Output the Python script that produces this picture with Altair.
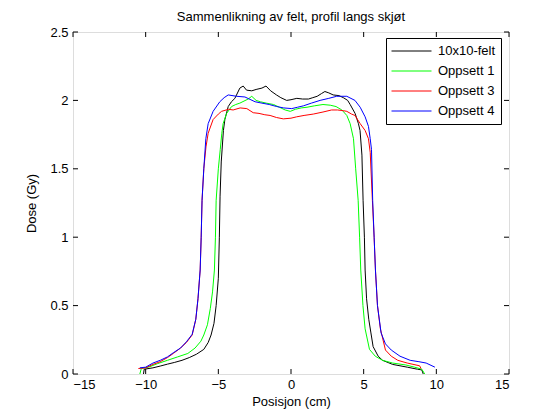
import altair as alt
import pandas as pd

# ---- data ----
series_names = ["10x10-felt", "Oppsett 1", "Oppsett 3", "Oppsett 4"]
series_colors = ["#000000", "#00ff00", "#ff0000", "#0000ff"]

black_x = [-10.15, -10.1, -9.5, -9.0, -8.5, -8.0, -7.5, -7.0, -6.5, -6.0, -5.7, -5.5, -5.3, -5.15,
           -5.0, -4.93, -4.88, -4.8, -4.65, -4.55, -4.32, -4.1, -3.86, -3.52, -3.29, -3.06, -2.7,
           -2.4, -2.0, -1.72, -1.4, -1.0, -0.7, -0.3, 0.0, 0.4, 0.8, 1.2, 1.5, 1.8, 2.1, 2.33, 2.6,
           2.9, 3.3, 3.6, 3.9, 4.07, 4.41, 4.64, 4.75, 4.88, 4.96, 5.05, 5.1, 5.2, 5.35, 5.5, 5.65,
           6.0, 6.3, 7.0, 8.0, 8.7, 9.0, 9.1]
black_y = [0.0, 0.035, 0.045, 0.058, 0.072, 0.085, 0.10, 0.12, 0.145, 0.18, 0.23, 0.285, 0.37, 0.5,
           0.7, 1.0, 1.3, 1.55, 1.78, 1.86, 1.955, 1.99, 2.015, 2.09, 2.105, 2.075, 2.07,
           2.08, 2.09, 2.105, 2.07, 2.04, 2.02, 2.0, 2.005, 2.015, 2.01, 2.01, 2.02, 2.03, 2.05, 2.065, 2.055,
           2.04, 2.035, 2.02, 2.0, 1.97, 1.905, 1.83, 1.78, 1.6, 1.27, 1.0, 0.76, 0.55, 0.4, 0.3, 0.2,
           0.13, 0.1, 0.07, 0.05, 0.035, 0.03, 0.0]

green_x = [-10.4, -10.3, -9.8, -9.2, -8.5, -7.8, -7.1, -6.6, -6.2, -6.0, -5.75, -5.55, -5.4, -5.27,
           -5.2, -5.15, -5.0, -4.87, -4.76, -4.67, -4.43, -4.09, -3.8, -3.52, -2.95, -2.7, -2.4, -2.1,
           -1.7, -1.2, -0.8, -0.4, -0.05, 0.3, 0.7, 1.1, 1.6, 2.2, 2.7, 3.1, 3.5, 3.84, 4.07, 4.3,
           4.45, 4.62, 4.72, 4.8, 4.95, 5.1, 5.4, 5.8, 6.3, 7.0, 7.9, 8.5, 9.0, 9.2]
green_y = [0.0, 0.04, 0.05, 0.075, 0.1, 0.125, 0.15, 0.19, 0.24, 0.285, 0.36, 0.48, 0.6, 0.76,
           1.0, 1.27, 1.5, 1.64, 1.76, 1.83, 1.905, 1.955, 1.97, 1.98, 2.01, 2.03, 2.0, 1.99,
           1.98, 1.97, 1.95, 1.93, 1.92, 1.935, 1.945, 1.95, 1.96, 1.97, 1.965, 1.955, 1.93, 1.89, 1.83, 1.72,
           1.5, 1.27, 1.0, 0.76, 0.5, 0.33, 0.18, 0.13, 0.1, 0.08, 0.066, 0.05, 0.035, 0.0]

red_x = [-10.5, -10.0, -9.5, -9.0, -8.5, -8.1, -7.6, -7.2, -6.8, -6.55, -6.4, -6.25, -6.18, -6.12,
         -6.0, -5.85, -5.7, -5.36, -5.0, -4.78, -4.3, -3.98, -3.5, -3.04, -2.6, -2.2, -1.8, -1.44,
         -1.0, -0.53, 0.0, 0.39, 0.9, 1.53, 2.2, 2.79, 3.2, 3.59, 3.84, 4.17, 4.4, 4.76, 5.1, 5.33,
         5.45, 5.6, 5.72, 5.81, 5.95, 6.15, 6.5, 6.9, 7.35, 8.0, 8.85, 8.95]
red_y = [0.04, 0.045, 0.07, 0.09, 0.12, 0.15, 0.19, 0.23, 0.285, 0.4, 0.55, 0.76, 1.0, 1.27,
         1.5, 1.66, 1.76, 1.86, 1.9, 1.92, 1.935, 1.93, 1.945, 1.94, 1.91, 1.905, 1.895, 1.89,
         1.875, 1.865, 1.87, 1.88, 1.89, 1.9, 1.915, 1.93, 1.93, 1.925, 1.92, 1.9, 1.89, 1.83, 1.78, 1.72,
         1.62, 1.27, 1.0, 0.76, 0.5, 0.33, 0.175, 0.13, 0.1, 0.08, 0.06, 0.04]

blue_x = [-10.4, -10.0, -9.5, -9.0, -8.5, -8.1, -7.6, -7.2, -6.8, -6.55, -6.4, -6.25, -6.18, -6.12,
          -6.0, -5.86, -5.7, -5.36, -4.9, -4.6, -4.32, -3.75, -3.17, -2.47, -2.0, -1.5, -0.98, -0.5,
          0.05, 0.45, 0.85, 1.4, 2.0, 2.6, 3.14, 3.4, 3.84, 4.4, 4.76, 5.1, 5.33, 5.45, 5.54,
          5.62, 5.72, 5.81, 5.95, 6.2, 6.5, 6.9, 7.5, 8.2, 8.8, 9.3, 9.9]
blue_y = [0.045, 0.05, 0.08, 0.1, 0.125, 0.155, 0.19, 0.235, 0.29, 0.4, 0.55, 0.76, 1.0, 1.27,
          1.5, 1.72, 1.83, 1.92, 1.99, 2.02, 2.04, 2.03, 2.025, 1.99, 1.98, 1.97, 1.955, 1.945,
          1.94, 1.95, 1.96, 1.98, 2.0, 2.015, 2.03, 2.03, 2.03, 2.0, 1.95, 1.88, 1.81, 1.72, 1.64,
          1.27, 1.0, 0.76, 0.5, 0.3, 0.22, 0.175, 0.13, 0.1, 0.09, 0.08, 0.05]

x_ticks = [-15, -10, -5, 0, 5, 10, 15]
y_ticks = [0, 0.5, 1, 1.5, 2, 2.5]

# ---- build table ----
frames = []
for i, (name, xs, ys) in enumerate(zip(series_names,
                                       [black_x, green_x, red_x, blue_x],
                                       [black_y, green_y, red_y, blue_y])):
    frames.append(pd.DataFrame({"x": xs, "y": ys, "series": name, "k": i}))
df = pd.concat(frames, ignore_index=True)

W, H = 436, 342
FONT = "Liberation Sans"
FS = 13

xscale = alt.Scale(domain=[-15, 15], nice=False, zero=False)
yscale = alt.Scale(domain=[0, 2.5], nice=False, zero=False)

x_axis = alt.Axis(title="Posisjon (cm)", values=x_ticks, ticks=False, tickSize=0,
                  domain=False, grid=False, labelPadding=4, titlePadding=4,
                  labelFontSize=FS, titleFontSize=FS, labelFont=FONT, titleFont=FONT,
                  titleFontWeight="normal", labelColor="black", titleColor="black")
y_axis = alt.Axis(title="Dose (Gy)", values=y_ticks, ticks=False, tickSize=0,
                  domain=False, grid=False, labelPadding=5, titlePadding=11,
                  labelFontSize=FS, titleFontSize=FS, labelFont=FONT, titleFont=FONT,
                  titleFontWeight="normal", labelColor="black", titleColor="black",
                  labelExpr="format(datum.value, '~g')")

lines = alt.Chart(df).mark_line(strokeWidth=1, clip=True).encode(
    x=alt.X("x:Q", scale=xscale, axis=x_axis),
    y=alt.Y("y:Q", scale=yscale, axis=y_axis),
    color=alt.Color("series:N",
                    scale=alt.Scale(domain=series_names, range=series_colors),
                    legend=alt.Legend(title=None, orient="none", legendX=313, legendY=6,
                                      symbolType="stroke", symbolSize=1600, symbolStrokeWidth=1,
                                      labelFontSize=FS, labelFont=FONT, labelColor="black",
                                      strokeColor="black", fillColor="white", padding=5,
                                      clipHeight=16, rowPadding=4, labelOffset=6)),
    detail="k:N",
)

xt = pd.DataFrame({"t": x_ticks})
yt = pd.DataFrame({"t": y_ticks})
tick_len = 5

xt_bottom = alt.Chart(xt).mark_rule(color="black", strokeWidth=1).encode(
    x=alt.X("t:Q", scale=xscale, axis=x_axis),
    y=alt.value(H), y2=alt.value(H - tick_len))
xt_top = alt.Chart(xt).mark_rule(color="black", strokeWidth=1).encode(
    x=alt.X("t:Q", scale=xscale, axis=x_axis),
    y=alt.value(0), y2=alt.value(tick_len))
yt_left = alt.Chart(yt).mark_rule(color="black", strokeWidth=1).encode(
    y=alt.Y("t:Q", scale=yscale, axis=y_axis),
    x=alt.value(0), x2=alt.value(tick_len))
yt_right = alt.Chart(yt).mark_rule(color="black", strokeWidth=1).encode(
    y=alt.Y("t:Q", scale=yscale, axis=y_axis),
    x=alt.value(W), x2=alt.value(W - tick_len))

chart = alt.layer(lines, xt_bottom, xt_top, yt_left, yt_right).properties(
    width=W, height=H,
    title=alt.TitleParams("Sammenlikning av felt, profil langs skjøt", fontSize=FS,
                          font=FONT, fontWeight="normal", color="black", offset=2),
    autosize=alt.AutoSizeParams(type="none"),
    padding={"left": 65, "top": 24, "right": 40, "bottom": 36},
).configure_view(stroke="black", strokeWidth=1).configure(background="white")

chart.save("out.html", embed_options={"renderer": "svg", "actions": False})
